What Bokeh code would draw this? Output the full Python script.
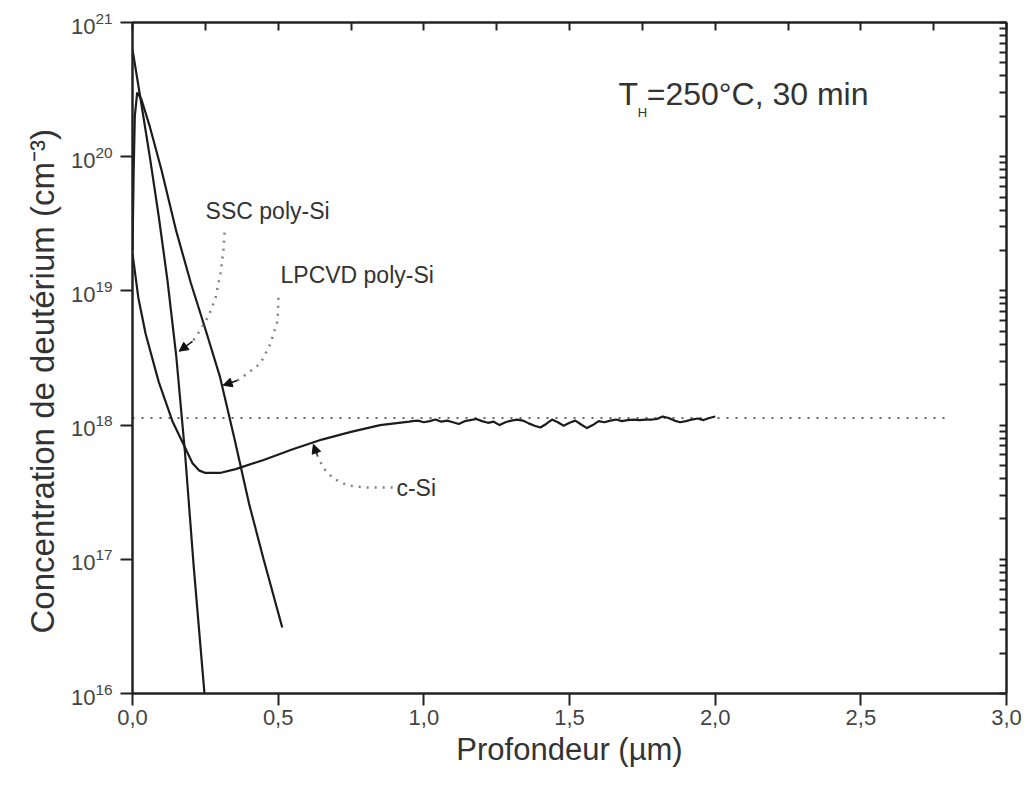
from bokeh.plotting import figure
from bokeh.models import (Range1d, LogAxis, LinearAxis, FixedTicker,
                          CustomJSTickFormatter, Label, Arrow, NormalHead, Title)
from bokeh.embed import file_html
from bokeh.resources import INLINE

# ---------------- data ----------------
x_ticks = [0.0, 0.5, 1.0, 1.5, 2.0, 2.5, 3.0]
x_minor = [0.25, 0.75, 1.25, 1.75, 2.25, 2.75]
y_ticks = [1e16, 1e17, 1e18, 1e19, 1e20, 1e21]
y_minor = [m * 10.0 ** e for e in range(16, 21) for m in range(2, 10)]

ssc_depth = [0.0, 0.03, 0.06, 0.09, 0.12, 0.15, 0.18, 0.21, 0.247]
ssc_conc = [6.3e20, 2.5e20, 9.8e19, 3.6e19, 1.2e19, 3.3e18, 6.3e17, 8.9e16, 1.0e16]

lpcvd_depth = [0.0, 0.004, 0.008, 0.016, 0.03, 0.06, 0.10, 0.15, 0.20, 0.25,
               0.30, 0.35, 0.40, 0.45, 0.514]
lpcvd_conc = [2.0e19, 7.9e19, 2.0e20, 3.0e20, 2.7e20, 1.66e20, 7.9e19, 2.8e19,
              1.15e19, 5.2e18, 2.3e18, 7.9e17, 2.6e17, 1.0e17, 3.1e16]

csi_depth = [0.0, 0.02, 0.045, 0.09, 0.137, 0.175, 0.206, 0.228, 0.25, 0.30, 0.354,
             0.45, 0.55, 0.65, 0.75, 0.85, 0.95,
             0.96, 0.98, 1.00, 1.02, 1.04, 1.06, 1.08, 1.10, 1.12, 1.14,
             1.16, 1.18, 1.20, 1.22, 1.24, 1.26, 1.28, 1.30, 1.32, 1.34,
             1.36, 1.38, 1.40, 1.42, 1.44, 1.46, 1.48, 1.50, 1.52, 1.54,
             1.56, 1.58, 1.60, 1.62, 1.64, 1.66, 1.68, 1.70, 1.72, 1.74,
             1.76, 1.78, 1.80, 1.82, 1.84, 1.86, 1.88, 1.90, 1.92, 1.94,
             1.96, 1.98, 2.00]
csi_conc = [1.9e19, 8.9e18, 4.8e18, 2.1e18, 1.07e18, 7.2e17, 5.2e17, 4.6e17, 4.4e17,
            4.4e17, 4.7e17, 5.5e17, 6.6e17, 7.8e17, 8.9e17, 1.0e18, 1.06e18,
            1.07e18, 1.08e18, 1.05e18, 1.07e18, 1.10e18, 1.06e18, 1.08e18,
            1.05e18, 1.02e18, 1.07e18, 1.09e18, 1.11e18, 1.07e18, 1.04e18,
            1.06e18, 1.00e18, 1.05e18, 1.08e18, 1.10e18, 1.08e18, 1.03e18,
            0.99e18, 0.96e18, 1.02e18, 1.10e18, 1.05e18, 0.99e18, 1.04e18,
            1.08e18, 1.01e18, 0.95e18, 1.00e18, 1.07e18, 1.05e18, 1.08e18,
            1.10e18, 1.07e18, 1.09e18, 1.10e18, 1.09e18, 1.10e18, 1.10e18,
            1.11e18, 1.16e18, 1.13e18, 1.08e18, 1.05e18, 1.07e18, 1.10e18,
            1.12e18, 1.09e18, 1.13e18, 1.16e18]

ref_depth = [0.0, 2.8]
ref_conc = [1.13e18, 1.13e18]

# annotation leader paths (depth, concentration)
ssc_lead_x = [0.316, 0.312, 0.302, 0.285, 0.264, 0.233, 0.206]
ssc_lead_y = [2.72e19, 2.0e19, 1.35e19, 8.9e18, 6.7e18, 5.1e18, 4.2e18]
ssc_arrow = (0.206, 4.2e18, 0.160, 3.55e18)

lp_lead_x = [0.501, 0.498, 0.474, 0.439, 0.395, 0.360]
lp_lead_y = [8.9e18, 6.0e18, 4.06e18, 2.88e18, 2.43e18, 2.15e18]
lp_arrow = (0.360, 2.15e18, 0.311, 1.98e18)

cs_lead_x = [0.893, 0.851, 0.793, 0.738, 0.690, 0.656, 0.635]
cs_lead_y = [3.43e17, 3.43e17, 3.43e17, 3.55e17, 4.0e17, 4.75e17, 5.9e17]
cs_arrow = (0.635, 5.9e17, 0.621, 7.2e17)

FONT = "Liberation Sans"
TXT = "#333333"
LINE = "#1c1c1c"
AX = "#222222"

W, H = 1026, 795
BL, BR, BT, BB = 132, 20, 22, 102

p = figure(width=W, height=H, x_range=Range1d(0, 3.0),
           y_range=Range1d(1e16, 1e21), y_axis_type="log",
           output_backend="svg", toolbar_location=None,
           min_border_left=BL, min_border_right=BR,
           min_border_top=BT, min_border_bottom=BB)
p.background_fill_color = "white"
p.border_fill_color = "white"
p.xgrid.visible = False
p.ygrid.visible = False
p.outline_line_color = AX
p.outline_line_width = 2

def style_axis(a):
    a.axis_line_width = 2
    a.major_tick_line_width = 2
    a.axis_line_color = AX
    a.major_tick_line_color = AX
    a.minor_tick_line_color = None

empty = CustomJSTickFormatter(code="return '';")

# bottom axis
xa = p.xaxis[0]
xa.ticker = FixedTicker(ticks=x_ticks, minor_ticks=[])
xa.formatter = CustomJSTickFormatter(code="return tick.toFixed(1).replace('.', ',');")
xa.axis_label = "Profondeur (µm)"
xa.axis_label_text_font = FONT
xa.axis_label_text_font_style = "normal"
xa.axis_label_text_font_size = "31px"
xa.axis_label_text_color = TXT
xa.axis_label_standoff = 4
xa.major_label_text_font = FONT
xa.major_label_text_font_size = "22px"
xa.major_label_text_color = "#444444"
xa.major_label_standoff = 4
xa.major_tick_out = 12
xa.major_tick_in = 0
style_axis(xa)

# left axis (native 10^n labels)
ya = p.yaxis[0]
ya.ticker = FixedTicker(ticks=y_ticks, minor_ticks=[])
ya.major_label_text_font = FONT
ya.major_label_text_font_size = "22px"
ya.major_label_text_color = "#444444"
ya.major_label_standoff = 8
ya.major_tick_out = 12
ya.major_tick_in = 0
style_axis(ya)

# y-axis title as a side title, a little below the frame centre
p.add_layout(Title(text="Concentration de deutérium (cm⁻³)", align="left",
                   offset=60, text_font=FONT, text_font_size="33px",
                   text_font_style="normal", text_color=TXT, standoff=14), "left")

top = LinearAxis(ticker=FixedTicker(ticks=sorted(x_ticks + x_minor), minor_ticks=[]),
                 formatter=empty, major_tick_in=8, major_tick_out=0,
                 major_label_standoff=0, major_label_text_font_size="1px")
style_axis(top)
p.add_layout(top, "above")
right = LogAxis(ticker=FixedTicker(ticks=sorted(y_ticks + y_minor), minor_ticks=[]),
                formatter=empty, major_tick_in=7, major_tick_out=0,
                major_label_standoff=0, major_label_text_font_size="1px")
style_axis(right)
p.add_layout(right, "right")

# reference dotted level
p.line(ref_depth, ref_conc, line_color="#666666", line_width=2, line_dash="2 7")

# curves
p.line(ssc_depth, ssc_conc, line_color=LINE, line_width=2.2)
p.line(lpcvd_depth, lpcvd_conc, line_color=LINE, line_width=2.2)
p.line(csi_depth, csi_conc, line_color=LINE, line_width=2.2, line_join="round")

# leader lines
for lx, ly in ((ssc_lead_x, ssc_lead_y), (lp_lead_x, lp_lead_y), (cs_lead_x, cs_lead_y)):
    p.line(lx, ly, line_color="#808080", line_width=2.5, line_dash="2 6")
for (x0, y0, x1, y1) in (ssc_arrow, lp_arrow, cs_arrow):
    p.add_layout(Arrow(end=NormalHead(size=9, fill_color="#111111", line_color="#111111"),
                       x_start=x0, y_start=y0, x_end=x1, y_end=y1,
                       line_color="#111111", line_width=1.5))

def lab(x, y, t, size):
    p.add_layout(Label(x=x, y=y, text=t, text_font=FONT, text_font_size=size,
                       text_color=TXT, text_baseline="middle", text_align="left"))

lab(0.251, 3.97e19, "SSC poly-Si", "23px")
lab(0.508, 1.32e19, "LPCVD poly-Si", "23px")
lab(0.906, 3.37e17, "c-Si", "23px")
lab(1.668, 2.95e20, "T", "32px")
lab(1.734, 2.13e20, "H", "13px")
lab(1.765, 2.95e20, "=250°C, 30 min", "32px")

open("out.html", "w").write(file_html(p, INLINE))
